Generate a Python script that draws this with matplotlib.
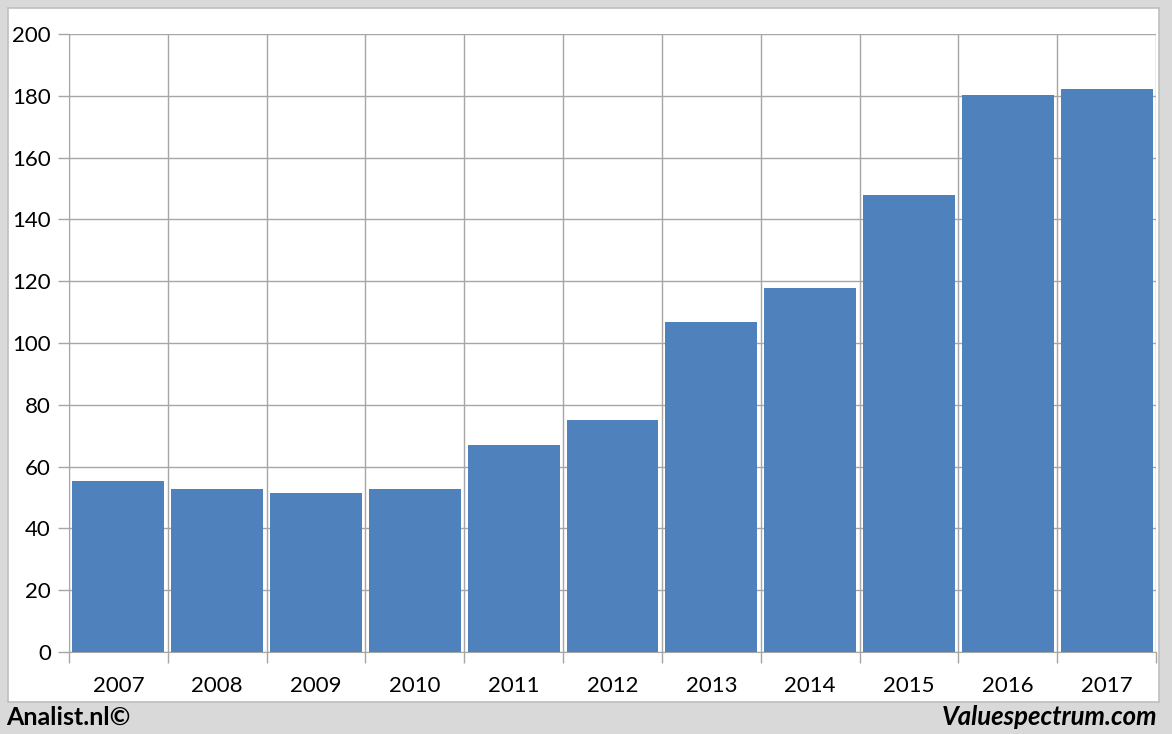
import numpy as np
import matplotlib.pyplot as plt
from matplotlib.patches import Rectangle

plt.rcParams['font.family'] = ['Lato', 'DejaVu Sans']

years = ['2007', '2008', '2009', '2010', '2011', '2012', '2013', '2014', '2015', '2016', '2017']
values = [55.3, 52.7, 51.5, 52.7, 67.0, 75.0, 106.8, 117.8, 147.9, 180.3, 182.2]
yticks = [0, 20, 40, 60, 80, 100, 120, 140, 160, 180, 200]

W, H = 1172, 734
fig = plt.figure(figsize=(W / 100, H / 100), dpi=100)
fig.patch.set_facecolor('#d9d9d9')

# white panel
fig.patches.append(Rectangle((8 / W, 1 - 702 / H), (1159 - 8) / W, (702 - 8) / H,
                             transform=fig.transFigure, facecolor='white',
                             edgecolor='#bfbfbf', linewidth=1.2, zorder=-5))

ax = fig.add_axes([69 / W, 1 - 652 / H, (1156 - 69) / W, (652 - 34) / H])
ax.set_zorder(2)
ax.set_facecolor('none')
x = np.arange(len(years))
ax.bar(x, values, width=0.93, color='#4f81bd', zorder=3)

ax.set_xlim(-0.5, len(years) - 0.5)
ax.set_ylim(0, 200)
ax.set_yticks(yticks)
ax.set_yticklabels([str(v) for v in yticks], fontsize=16)

# category boundaries as vertical grid
ax.set_xticks(np.arange(len(years) + 1) - 0.5)
ax.set_xticklabels([])
ax.set_xticks(x, minor=True)
ax.set_xticklabels(years, minor=True, fontsize=16)
ax.tick_params(axis='x', which='minor', length=0, pad=17)
ax.tick_params(axis='x', which='major', length=8, color='#a6a6a6', width=1)
ax.tick_params(axis='y', length=8, color='#a6a6a6', width=1, pad=5)

ax.grid(True, which='major', color='#a6a6a6', linewidth=1, zorder=0)
for s in ['top', 'right']:
    ax.spines[s].set_visible(False)
ax.spines['left'].set_color('#a6a6a6')
ax.spines['bottom'].set_color('#a6a6a6')

fig.text(6 / W, 1 - 717 / H, 'Analist.nl©', fontsize=18, fontweight='bold',
         ha='left', va='center')
fig.text(1157 / W, 1 - 717 / H, 'Valuespectrum.com', fontsize=18.5, fontweight='bold',
         fontstyle='italic', ha='right', va='center')

fig.savefig('out.png', dpi=100, facecolor=fig.get_facecolor())
